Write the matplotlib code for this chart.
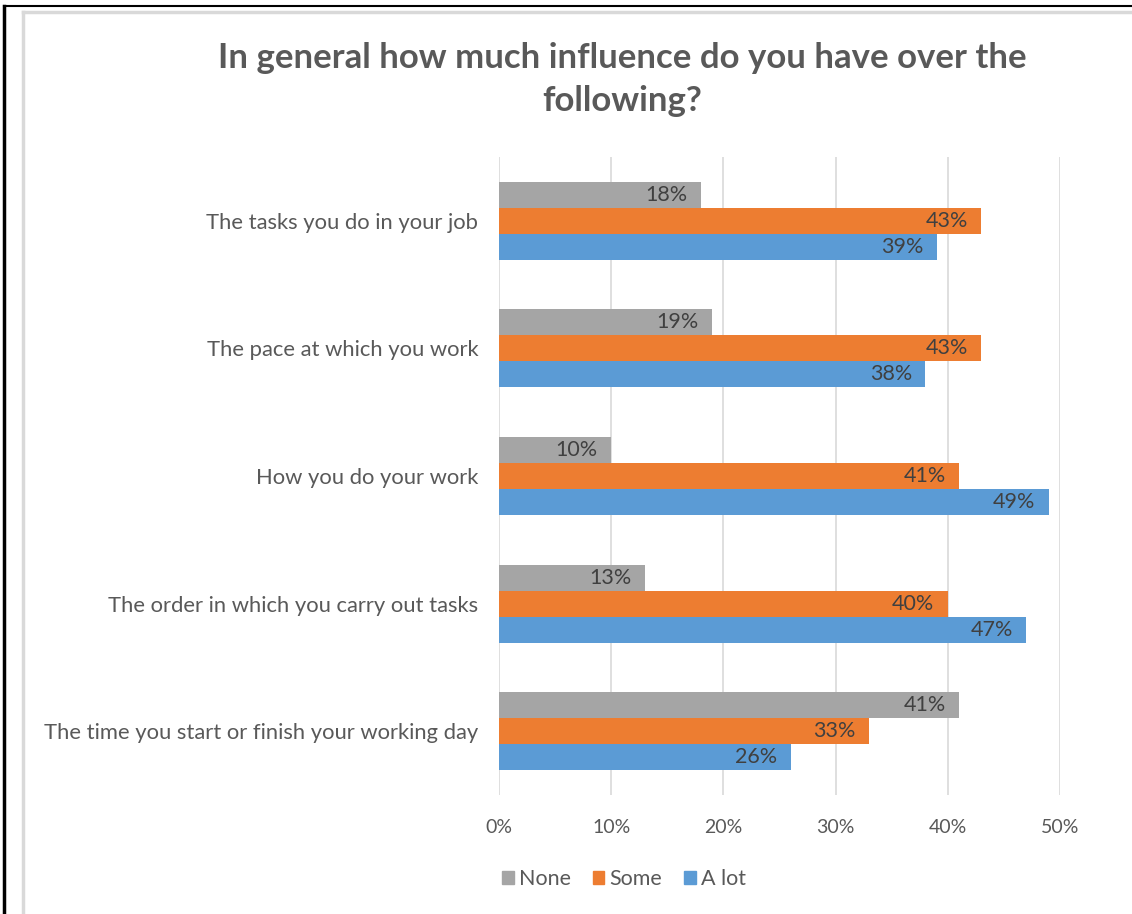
import matplotlib
matplotlib.use("Agg")
import matplotlib.pyplot as plt
import numpy as np
from matplotlib.lines import Line2D
from matplotlib.patches import Patch

categories = [
    "The tasks you do in your job",
    "The pace at which you work",
    "How you do your work",
    "The order in which you carry out tasks",
    "The time you start or finish your working day",
]
series = ["None", "Some", "A lot"]
none_vals = [18, 19, 10, 13, 41]
some_vals = [43, 43, 41, 40, 33]
alot_vals = [39, 38, 49, 47, 26]
colors = ["#A5A5A5", "#ED7D31", "#5B9BD5"]
xticks = [0, 10, 20, 30, 40, 50]

plt.rcParams["font.family"] = ["Lato", "DejaVu Sans"]
TXT = "#595959"

W, H = 1132, 914
fig = plt.figure(figsize=(W / 100, H / 100), dpi=100)
ax = fig.add_axes([499 / W, 1 - 795 / H, (1060 - 499) / W, (795 - 157) / H])

bh = 0.204
y = np.arange(len(categories))
for k, (vals, c) in enumerate(zip([none_vals, some_vals, alot_vals], colors)):
    pos = y + (k - 1) * bh
    bars = ax.barh(pos, vals, height=bh, color=c, zorder=3)
    for b, v in zip(bars, vals):
        ax.text(b.get_width() - 1.2, b.get_y() + b.get_height() / 2, f"{v}%",
                ha="right", va="center", fontsize=15.5, color="#404040", zorder=4)

ax.set_xlim(0, 50)
ax.set_ylim(len(categories) - 0.5, -0.5)
ax.set_xticks(xticks)
ax.set_xticklabels([f"{t}%" for t in xticks], fontsize=14, color=TXT)
ax.set_yticks(y)
ax.set_yticklabels(categories, fontsize=15.8, color=TXT)
ax.tick_params(length=0, pad=15, axis="y")
ax.tick_params(length=0, pad=17, axis="x")
ax.xaxis.grid(True, color="#D9D9D9", lw=1.2, zorder=0)
for s in ax.spines.values():
    s.set_visible(False)

fig.text(622 / W, 1 - 58 / H, "In general how much influence do you have over the",
         ha="center", va="center", fontsize=25, fontweight="bold", color=TXT)
fig.text(622 / W, 1 - 101 / H, "following?",
         ha="center", va="center", fontsize=25, fontweight="bold", color=TXT)

handles = [Patch(color=c) for c in colors]
fig.legend(handles, series, loc="center", bbox_to_anchor=(624 / W, 1 - 879 / H),
           ncol=3, frameon=False, fontsize=15.5, labelcolor=TXT,
           handlelength=0.55, handleheight=0.55, handletextpad=0.25, columnspacing=1.0)

# frame lines
fig.add_artist(Line2D([23 / W, 23 / W], [1 - 12 / H, 0], color="#D9D9D9", lw=2.5))
fig.add_artist(Line2D([23 / W, 1], [1 - 12 / H, 1 - 12 / H], color="#D9D9D9", lw=2.5))
fig.add_artist(Line2D([4 / W, 4 / W], [1 - 6 / H, 0], color="black", lw=2.5))
fig.add_artist(Line2D([4 / W, 1], [1 - 6 / H, 1 - 6 / H], color="black", lw=1.5))

fig.savefig("out.png", dpi=100)
